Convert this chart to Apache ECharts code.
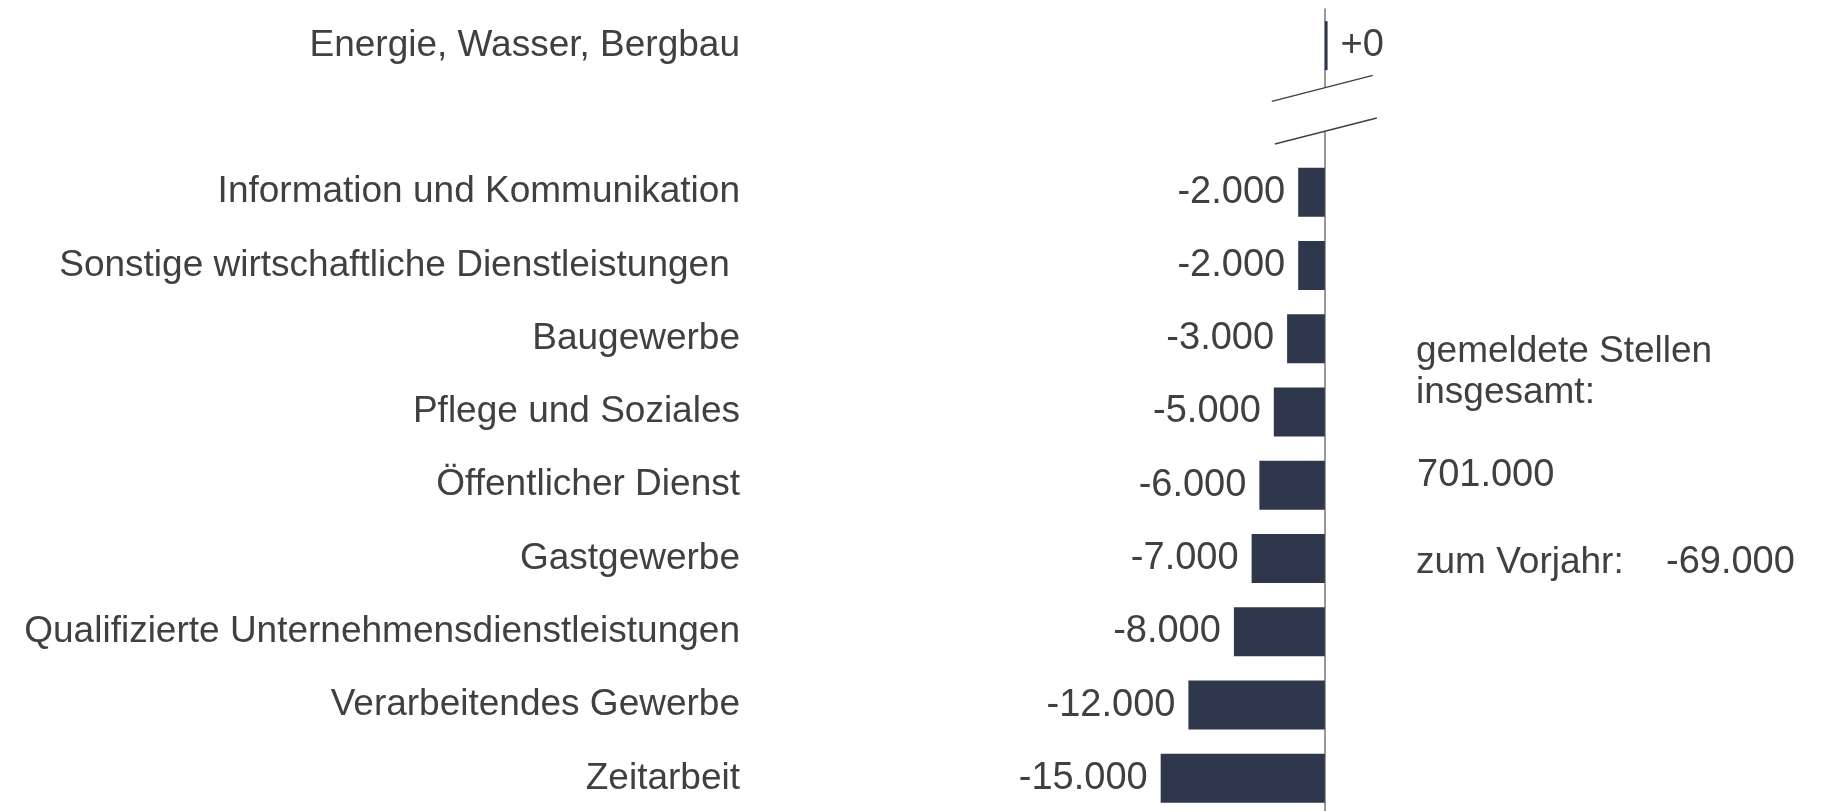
<!DOCTYPE html>
<html>
<head>
<meta charset="utf-8">
<script src="https://cdn.jsdelivr.net/npm/echarts@6/dist/echarts.min.js"></script>
<style>
  html, body { margin: 0; padding: 0; background: #fff; }
  #mainChart { width: 1823px; height: 811px; }
</style>
</head>
<body>
<div id="mainChart"></div>
<script>
  // Branchen (leerer Eintrag = Achsenbruch)
  const categories = [
    'Energie, Wasser, Bergbau',
    '',
    'Information und Kommunikation',
    'Sonstige wirtschaftliche Dienstleistungen ',
    'Baugewerbe',
    'Pflege und Soziales',
    'Öffentlicher Dienst',
    'Gastgewerbe',
    'Qualifizierte Unternehmensdienstleistungen',
    'Verarbeitendes Gewerbe',
    'Zeitarbeit'
  ];
  // Veränderung zum Vorjahr (Balkenlänge), Beschriftung auf Tausend gerundet
  const values = [250, '-', -2400, -2400, -3400, -4600, -5900, -6600, -8200, -12300, -14800];
  const noteLines = ['gemeldete Stellen', 'insgesamt:', '701.000', 'zum Vorjahr:', '-69.000'];

  const textColor = '#404040';
  const barColor = '#2f374c';
  const font = "'Liberation Sans', Arial, sans-serif";

  function fmt(v) {
    const k = Math.round(v / 1000);
    if (k === 0) return v >= 0 ? '+0' : '-0';
    return (k > 0 ? '+' : '-') + Math.abs(k) + '.000';
  }

  const myChart = echarts.init(document.getElementById('mainChart'));

  const option = {
    animation: false,
    grid: {
      left: 1103,
      width: 244,
      top: 9,
      height: 806,
      outerBoundsMode: 'none',
      containLabel: false
    },
    xAxis: {
      type: 'value',
      min: -20000,
      max: 2000,
      show: false
    },
    yAxis: {
      type: 'category',
      inverse: true,
      data: categories,
      axisTick: { show: false },
      axisLine: {
        onZero: true,
        lineStyle: { color: '#767676', width: 1.5 }
      },
      axisLabel: {
        margin: 363,
        fontSize: 37,
        color: textColor,
        fontFamily: font,
        interval: 0
      }
    },
    series: [
      {
        type: 'bar',
        barWidth: 49,
        itemStyle: { color: barColor },
        label: {
          show: true,
          fontSize: 38,
          color: textColor,
          fontFamily: font,
          distance: 13,
          position: 'left',
          formatter: function (p) { return fmt(p.value); }
        },
        // positive Werte rechts beschriften
        data: values.map(function (v) {
          if (v === '-') return v;
          return v >= 0 ? { value: v, label: { position: 'right' } } : v;
        })
      }
    ]
  };
  myChart.setOption(option);

  // Achsenbruch und Textkasten
  const x0 = myChart.convertToPixel({ xAxisIndex: 0 }, 0);
  const y0 = myChart.convertToPixel({ yAxisIndex: 0 }, 0);
  const y2 = myChart.convertToPixel({ yAxisIndex: 0 }, 2);
  const slot = (y2 - y0) / 2;
  const c1 = y0 + slot * 0.575;
  const c2 = y0 + slot * 1.17;
  const breakStyle = { stroke: textColor, lineWidth: 1.5 };
  const txt = '37px ' + font;
  const num = '38px ' + font;

  myChart.setOption({
    graphic: [
      {
        type: 'rect', z: 100,
        shape: { x: x0 - 4, y: c1, width: 8, height: c2 - c1 },
        style: { fill: '#fff' }
      },
      {
        type: 'line', z: 101,
        shape: { x1: x0 - 53, y1: c1 + 13.6, x2: x0 + 48, y2: c1 - 12.4 },
        style: breakStyle
      },
      {
        type: 'line', z: 101,
        shape: { x1: x0 - 50, y1: c2 + 12.7, x2: x0 + 52, y2: c2 - 13.3 },
        style: breakStyle
      },
      {
        type: 'group', left: 1416, top: 333,
        children: [
          { type: 'text', x: 0, y: 0, style: { text: noteLines[0], font: txt, fill: textColor } },
          { type: 'text', x: 0, y: 41, style: { text: noteLines[1], font: txt, fill: textColor } },
          { type: 'text', x: 1, y: 124, style: { text: noteLines[2], font: num, fill: textColor } },
          { type: 'text', x: 0, y: 211, style: { text: noteLines[3], font: txt, fill: textColor } },
          { type: 'text', x: 250, y: 211, style: { text: noteLines[4], font: num, fill: textColor } }
        ]
      }
    ]
  });
</script>
</body>
</html>
